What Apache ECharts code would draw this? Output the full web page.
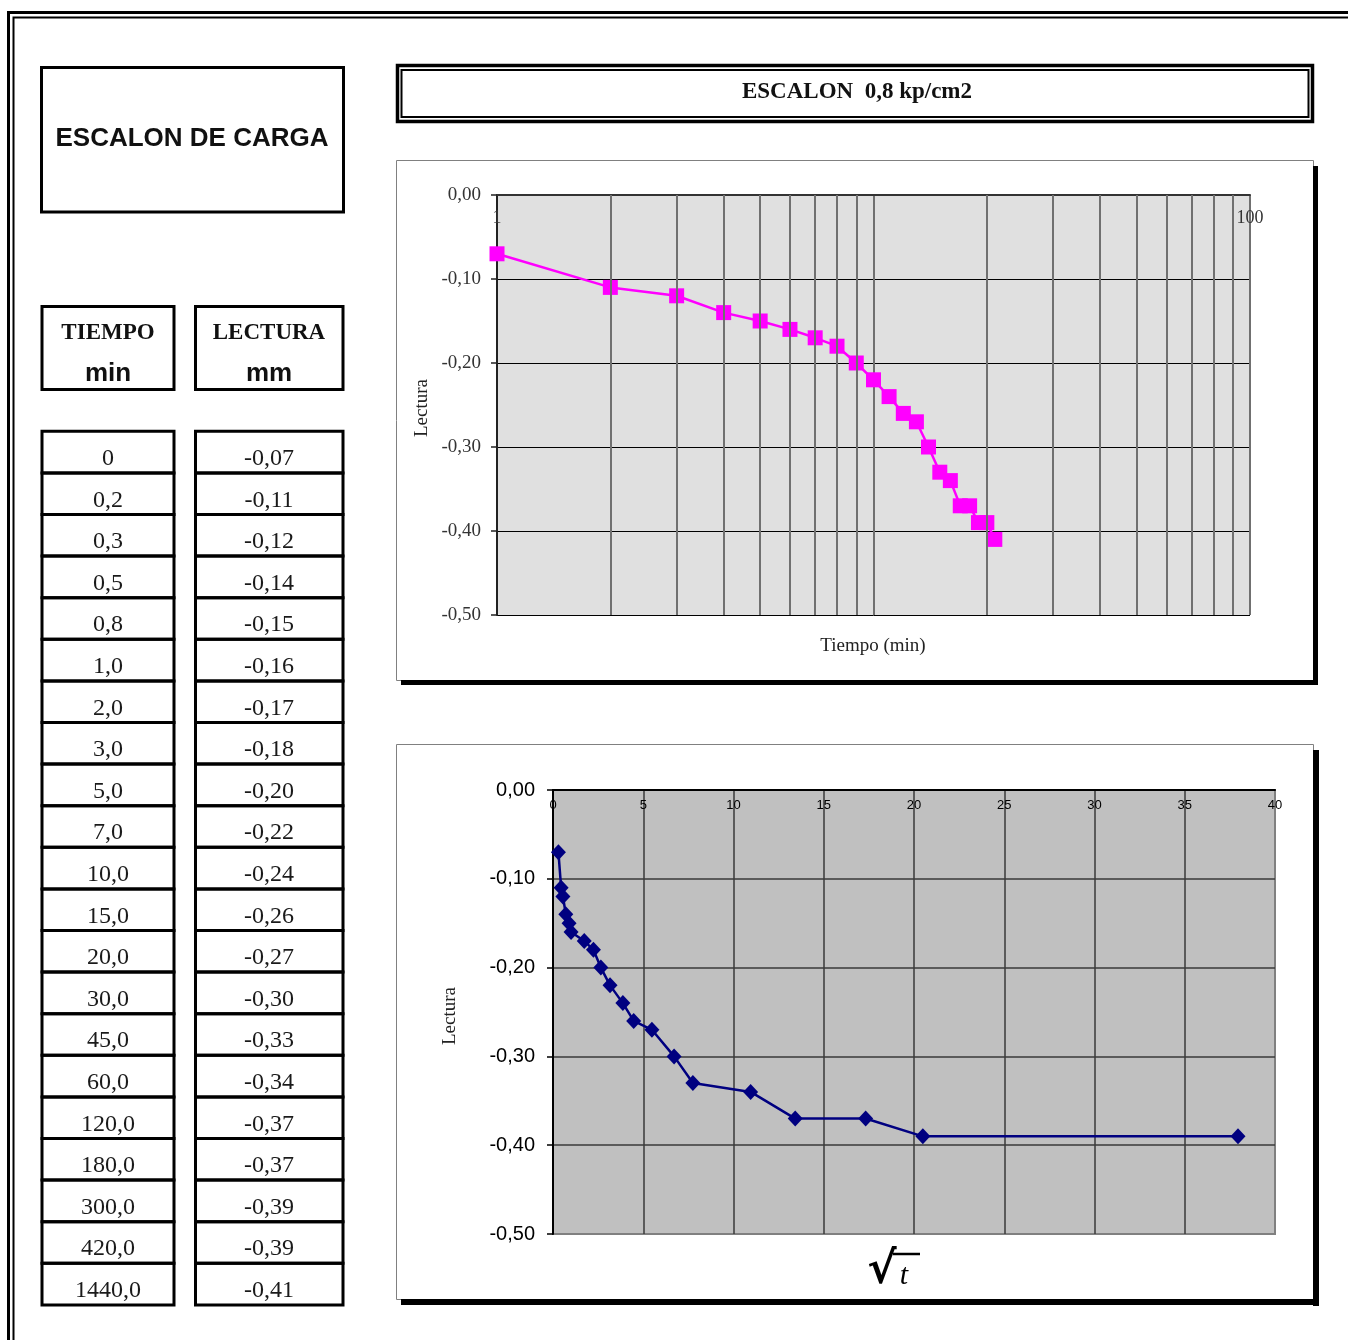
<!DOCTYPE html>
<html><head><meta charset="utf-8">
<script src="https://cdn.jsdelivr.net/npm/echarts@6/dist/echarts.min.js"></script>
<style>html,body{margin:0;padding:0;background:#fff}#c{width:1348px;height:1340px}</style>
</head><body><div id="c"></div>
<script>
// ---- data ----
const timeLabels = ['0','0,2','0,3','0,5','0,8','1,0','2,0','3,0','5,0','7,0','10,0','15,0','20,0','30,0','45,0','60,0','120,0','180,0','300,0','420,0','1440,0'];
const lectura = [-0.07,-0.11,-0.12,-0.14,-0.15,-0.16,-0.17,-0.18,-0.20,-0.22,-0.24,-0.26,-0.27,-0.30,-0.33,-0.34,-0.37,-0.37,-0.39,-0.39,-0.41];
const logX = [1,2,3,4,5,6,7,8,9,10,11,12,13,14,15,16,17,18,19,20,21];
const sqrtX = [0.30,0.45,0.55,0.71,0.89,1.00,1.73,2.24,2.65,3.16,3.87,4.47,5.48,6.71,7.75,10.95,13.42,17.32,20.49,37.95];
const sqrtY = [-0.07,-0.11,-0.12,-0.14,-0.15,-0.16,-0.17,-0.18,-0.20,-0.22,-0.24,-0.26,-0.27,-0.30,-0.33,-0.34,-0.37,-0.37,-0.39,-0.39];
const logGridValues = [2,3,4,5,6,7,8,9,20,30,40,50,60,70,80,90];
const headers = ['TIEMPO','min','LECTURA','mm'];
const pageTitle = 'ESCALON DE CARGA';
const chartTitle = 'ESCALON  0,8 kp/cm2';

const fmt = v => v.toFixed(2).replace('.', ',');
const SERIF = '"Liberation Serif", "Times New Roman", serif';
const SANS = '"Liberation Sans", Arial, sans-serif';

const g = [];
function rect(x, y, w, h, lw, stroke, fill) {
  g.push({type:'rect', silent:true, shape:{x:x, y:y, width:w, height:h},
    style:{fill: fill || 'none', stroke: stroke || 'none', lineWidth: lw || 0}});
}
function text(str, x, y, size, family, weight, color, rot, style) {
  const e = {type:'text', silent:true, x:x, y:y, z:10,
    style:{text:str, fontSize:size, fontFamily:family, fontWeight:weight||'normal',
      fontStyle: style || 'normal', fill:color||'#111', align:'center', verticalAlign:'middle'}};
  if (rot) e.rotation = rot;
  g.push(e);
}
// page frame (double line)
rect(8.5, 12.5, 2000, 2000, 3, '#000');
rect(13.5, 17.5, 2000, 2000, 2, '#000');
// title box
rect(41.5, 67.5, 302, 144.5, 3, '#000');
text(pageTitle, 192, 139, 26, SANS, 'bold', '#111');
// header boxes
rect(42, 306.5, 132, 83, 3, '#000');
rect(195.5, 306.5, 147.5, 83, 3, '#000');
text(headers[0], 108, 333, 23, SERIF, 'bold', '#111');
text(headers[1], 108, 374, 26, SANS, 'bold', '#111');
text(headers[2], 269, 333, 23, SERIF, 'bold', '#111');
text(headers[3], 269, 374, 26, SANS, 'bold', '#111');
// data table
const rowTop = 431.3, rowH = 41.6;
for (let i = 0; i < timeLabels.length; i++) {
  const y = rowTop + i * rowH;
  rect(42, y, 132, rowH, 3, '#000');
  rect(195.5, y, 147.5, rowH, 3, '#000');
  text(timeLabels[i], 108, y + 27.5, 24, SERIF, 'normal', '#1a1a1a');
  text(fmt(lectura[i]), 269, y + 27.5, 24, SERIF, 'normal', '#1a1a1a');
}
// chart title double box
rect(397.5, 65.5, 915, 56, 3.5, '#000');
rect(401.5, 70, 907, 47, 2, '#000');
text(chartTitle, 857, 92, 23, SERIF, 'bold', '#111');
// chart frames with shadow
rect(396.5, 160.5, 917, 520, 1, '#808080');
rect(1313, 166, 5, 519, 0, 'none', '#000');
rect(401, 680, 917, 5, 0, 'none', '#000');
rect(396.5, 744.5, 917, 555, 1, '#808080');
rect(1313, 750, 6, 556, 0, 'none', '#000');
rect(401, 1299, 918, 6, 0, 'none', '#000');
// axis names
text('Lectura', 422, 408, 19, SERIF, 'normal', '#222', Math.PI / 2);
text('Tiempo (min)', 873, 646, 19, SERIF, 'normal', '#222');
text('Lectura', 450, 1016, 19, SERIF, 'normal', '#222', Math.PI / 2);
text('\u221A', 882, 1272, 44, '"DejaVu Sans", sans-serif', 'bold', '#000');
text('t', 904, 1276, 30, SERIF, 'normal', '#000', 0, 'italic');
g.push({type:'line', silent:true, shape:{x1:893, y1:1254, x2:920, y2:1254}, style:{stroke:'#000', lineWidth:2.5}});

const chart = echarts.init(document.getElementById('c'), null, {renderer:'canvas'});
chart.setOption({
  animation: false,
  graphic: g,
  grid: [
    {left:497, top:195, width:753, height:420, show:true, backgroundColor:'#e0e0e0', borderWidth:0},
    {left:553, top:790, width:722, height:444, show:true, backgroundColor:'#c0c0c0', borderColor:'#808080', borderWidth:2}
  ],
  xAxis: [
    {gridIndex:0, type:'log', logBase:10, min:1, max:100, position:'top',
      axisLine:{show:true, onZero:false, lineStyle:{color:'#333', width:2}},
      axisTick:{show:false},
      axisLabel:{inside:true, margin:14, fontFamily:SERIF, fontSize:18, color:'#333',
        formatter: v => (Math.round(v) === 10 ? '' : String(Math.round(v)))},
      splitLine:{show:true, lineStyle:{color:'#707070', width:2}}},
    {gridIndex:1, type:'value', min:0, max:40, interval:5, position:'top',
      axisLine:{show:true, onZero:false, lineStyle:{color:'#000', width:2}},
      axisTick:{show:false},
      axisLabel:{inside:true, margin:9, fontFamily:SANS, fontSize:13, color:'#000'},
      splitLine:{show:true, showMaxLine:false, lineStyle:{color:'#3a3a3a', width:1.5}}}
  ],
  yAxis: [
    {gridIndex:0, type:'value', min:-0.5, max:0, interval:0.1,
      axisLine:{show:true, onZero:false, lineStyle:{color:'#222', width:2}},
      axisTick:{show:true, length:6, lineStyle:{color:'#222', width:1.5}},
      axisLabel:{margin:16, fontFamily:SERIF, fontSize:19, color:'#333', formatter: fmt},
      splitLine:{show:true, lineStyle:{color:'#000', width:1}}},
    {gridIndex:1, type:'value', min:-0.5, max:0, interval:0.1,
      axisLine:{show:true, onZero:false, lineStyle:{color:'#000', width:2}},
      axisTick:{show:true, length:6, lineStyle:{color:'#000', width:1.5}},
      axisLabel:{margin:18, fontFamily:SANS, fontSize:20, color:'#000', formatter: fmt},
      splitLine:{show:true, showMinLine:false, lineStyle:{color:'#3a3a3a', width:1.5}}}
  ],
  series: [
    {type:'line', xAxisIndex:0, yAxisIndex:0, data:[], silent:true, z:1,
      markLine:{silent:true, symbol:['none','none'], label:{show:false},
        lineStyle:{color:'#707070', width:2, type:'solid'},
        emphasis:{disabled:true},
        data: logGridValues.map(v => ({xAxis: v}))}},
    {type:'line', xAxisIndex:0, yAxisIndex:0, z:3,
      data: logX.map((x, i) => [x, lectura[i]]),
      symbol:'rect', symbolSize:15,
      itemStyle:{color:'#ff00ff'}, lineStyle:{color:'#ff00ff', width:2.5}},
    {type:'line', xAxisIndex:1, yAxisIndex:1, z:3,
      data: sqrtX.map((x, i) => [x, sqrtY[i]]),
      symbol:'diamond', symbolSize:[15, 16],
      itemStyle:{color:'#000080'}, lineStyle:{color:'#000080', width:2.5}}
  ]
});
</script></body></html>
